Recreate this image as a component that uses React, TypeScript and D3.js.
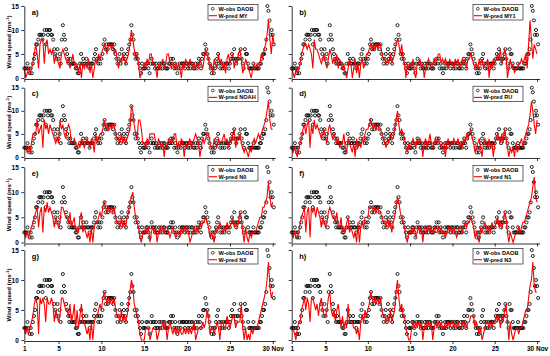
import { useEffect, useRef } from "react";
import * as d3 from "d3";

// observed wind speed (DAOB), 3-hourly, one string per day (hex digits, a=10 ... f=15)
const obsDays = [
  "22232121", "34577899", "989a7a9a", "a9986546", "4538b986", "54343333",
  "22113534", "33433233", "34564343", "45786767", "77767543", "45364543",
  "5678b985", "45432132", "22332134", "33232232", "32332223", "34342321",
  "23233323", "32323322", "32343245", "57654321", "21234532", "32323332",
  "34546434", "45643265", "53222232", "22223345", "568fec9a", "97",
];

// predicted wind speed, 4-hourly, one string per day
const predMY = [
  "201212", "357527", "883785", "656354", "325654", "342353", "231303", "232413",
  "024354", "567657", "767564", "243543", "457a86", "453012", "324355", "332032",
  "342355", "323232", "320324", "324323", "232432", "465423", "143253", "423145",
  "345243", "564124", "321023", "232354", "679c85", "97",
];
const predMY1 = [
  "210212", "356776", "765286", "654345", "324653", "435243", "231024", "302413",
  "034235", "567676", "767754", "434353", "457875", "743032", "324103", "342302",
  "343234", "345534", "343243", "324342", "343424", "454323", "243423", "340324",
  "345463", "465024", "231223", "343452", "7c8476", "5",
];
const predNOAH = [
  "221213", "555856", "728675", "765434", "386754", "676334", "323243", "234324",
  "315345", "568676", "767754", "435343", "456ba7", "548863", "324355", "553243",
  "230324", "343552", "324303", "234234", "543024", "345532", "243243", "345342",
  "435624", "453212", "102134", "345456", "78ac86", "6",
];
const predRU = [
  "212102", "346757", "827586", "765456", "436754", "543423", "352143", "213042",
  "324356", "678767", "676654", "324354", "468a75", "654213", "234324", "343034",
  "235323", "434323", "303423", "343342", "324354", "564312", "342034", "324230",
  "345435", "364202", "120312", "342456", "79ca75", "8",
];
const predN0 = [
  "212123", "456736", "727686", "765354", "347765", "546345", "232562", "321203",
  "034456", "578767", "676754", "435343", "5689a7", "543102", "232302", "323023",
  "232332", "123212", "213232", "320123", "232434", "454312", "103234", "323243",
  "345343", "465203", "102122", "234557", "789c97", "8",
];
const predN1 = [
  "212112", "456726", "717675", "765354", "346765", "546335", "232452", "321204",
  "034355", "577767", "676654", "435342", "457986", "543102", "232312", "323033",
  "232323", "223232", "212323", "232123", "323434", "454312", "103234", "323243",
  "345343", "465202", "101223", "234456", "789bd9", "8",
];
const predN2 = [
  "212123", "467617", "676376", "676354", "347765", "546346", "252463", "321203",
  "034456", "578767", "676754", "435343", "468a96", "543100", "022201", "222012",
  "232302", "321212", "121121", "212123", "012223", "235412", "212320", "332243",
  "234423", "336202", "010212", "223456", "78ad97", "8",
];
const predN3 = [
  "221023", "356757", "637765", "646754", "457854", "535642", "423263", "332212",
  "034354", "568767", "676754", "434353", "458a75", "644210", "023232", "323023",
  "232302", "323232", "232323", "323232", "232323", "344423", "212012", "332323",
  "343424", "356303", "101221", "223455", "79ad98", "8",
];

const panelIds = ["a", "b", "c", "d", "e", "f", "g", "h"];
const modelNames = ["MY", "MY1", "NOAH", "RU", "N0", "N1", "N2", "N3"];
const predSeries = [predMY, predMY1, predNOAH, predRU, predN0, predN1, predN2, predN3];
const xTicks = [1, 5, 10, 15, 20, 25, 30];
const yTicks = [0, 5, 10, 15];

const decode = (days: string[]) => days.join("").split("").map((c) => parseInt(c, 16));

export default function App() {
  const ref = useRef<SVGSVGElement>(null);

  useEffect(() => {
    const svg = d3.select(ref.current);
    svg.selectAll("*").remove();
    const font = "Arial, 'Liberation Sans', sans-serif";

    const rows = [
      { top: 6, bottom: 78 },
      { top: 87.7, bottom: 157 },
      { top: 167, bottom: 242.5 },
      { top: 250, bottom: 340 },
    ];
    const cols = [
      { left: 24.3, right: 275.3 },
      { left: 291.7, right: 539.6 },
    ];

    const obs = decode(obsDays).map((v, i) => ({ t: 1 + i / 8, v }));

    panelIds.forEach((id, k) => {
      const r = rows[Math.floor(k / 2)];
      const c = cols[k % 2];
      const isLeft = k % 2 === 0;
      const isBottom = k >= 6;

      const x = d3.scaleLinear().domain([1, 30.3]).range([c.left, c.right]);
      const y = d3.scaleLinear().domain([0, 15]).range([r.bottom, r.top]);
      const g = svg.append("g");

      // observations
      g.append("g")
        .selectAll("circle")
        .data(obs)
        .join("circle")
        .attr("cx", (d) => x(d.t))
        .attr("cy", (d) => y(d.v))
        .attr("r", 1.55)
        .attr("fill", "none")
        .attr("stroke", "#000")
        .attr("stroke-width", 0.85);

      // prediction
      const pred = decode(predSeries[k]).map((v, i) => ({ t: 1 + i / 6, v }));
      const line = d3
        .line<{ t: number; v: number }>()
        .x((d) => x(d.t))
        .y((d) => y(d.v));
      g.append("path")
        .attr("d", line(pred))
        .attr("fill", "none")
        .attr("stroke", "#ff0000")
        .attr("stroke-width", 1.1);

      // axes
      const yAxis = d3
        .axisLeft(y)
        .tickValues(yTicks)
        .tickSize(3)
        .tickSizeOuter(0)
        .tickPadding(2.5)
        .tickFormat((d) => (isLeft ? String(d) : ""));
      g.append("g").attr("transform", `translate(${c.left},0)`).call(yAxis);

      const xAxis = d3
        .axisBottom(x)
        .tickValues(xTicks)
        .tickSize(3)
        .tickSizeOuter(0)
        .tickPadding(2.5)
        .tickFormat((d) => (isBottom ? (d === 30 ? "30 Nov" : String(d)) : ""));
      g.append("g").attr("transform", `translate(0,${r.bottom + 1})`).call(xAxis);

      g.selectAll(".domain").attr("stroke", "#000").attr("stroke-width", 0.8);
      g.selectAll(".tick line").attr("stroke", "#000").attr("stroke-width", 0.8);
      g.selectAll(".tick text")
        .attr("font-size", 6.5)
        .attr("font-family", font)
        .attr("font-weight", "bold")
        .attr("fill", "#000");

      // panel label
      g.append("text")
        .attr("x", c.left + 7.5)
        .attr("y", r.top + 8.5)
        .attr("font-size", 7.5)
        .attr("font-weight", "bold")
        .attr("font-family", font)
        .text(`${id})`);

      // legend
      const L = isLeft ? 208 : 473;
      const T = r.top - 1.5;
      const lg = g.append("g").attr("font-family", font).attr("font-size", 5.6).attr("font-weight", "bold");
      lg.append("rect")
        .attr("x", L)
        .attr("y", T)
        .attr("width", 50)
        .attr("height", 15.5)
        .attr("fill", "#fff")
        .attr("stroke", "#000")
        .attr("stroke-width", 0.6);
      lg.append("circle")
        .attr("cx", L + 4.8)
        .attr("cy", T + 4.3)
        .attr("r", 1.4)
        .attr("fill", "none")
        .attr("stroke", "#000")
        .attr("stroke-width", 0.7);
      lg.append("text").attr("x", L + 10.5).attr("y", T + 6.3).text("W-obs DAOB");
      lg.append("line")
        .attr("x1", L + 0.8)
        .attr("x2", L + 9)
        .attr("y1", T + 11.2)
        .attr("y2", T + 11.2)
        .attr("stroke", "#ff0000")
        .attr("stroke-width", 1.1);
      lg.append("text").attr("x", L + 10.5).attr("y", T + 13.2).text(`W-pred ${modelNames[k]}`);

      // y-axis title
      if (isLeft) {
        const cy = (r.top + r.bottom) / 2;
        const t = g
          .append("text")
          .attr("transform", `translate(11,${cy}) rotate(-90)`)
          .attr("text-anchor", "middle")
          .attr("font-size", 6.2)
          .attr("font-weight", "bold")
          .attr("font-family", font);
        t.append("tspan").text("Wind speed (ms");
        t.append("tspan").attr("font-size", 4.2).attr("dy", -2.2).text("-1");
        t.append("tspan").attr("dy", 2.2).text(")");
      }
    });
  }, []);

  return (
    <div style={{ position: "absolute", left: 0, top: 0, background: "#fff" }}>
      <svg ref={ref} width={550} height={356} />
    </div>
  );
}
